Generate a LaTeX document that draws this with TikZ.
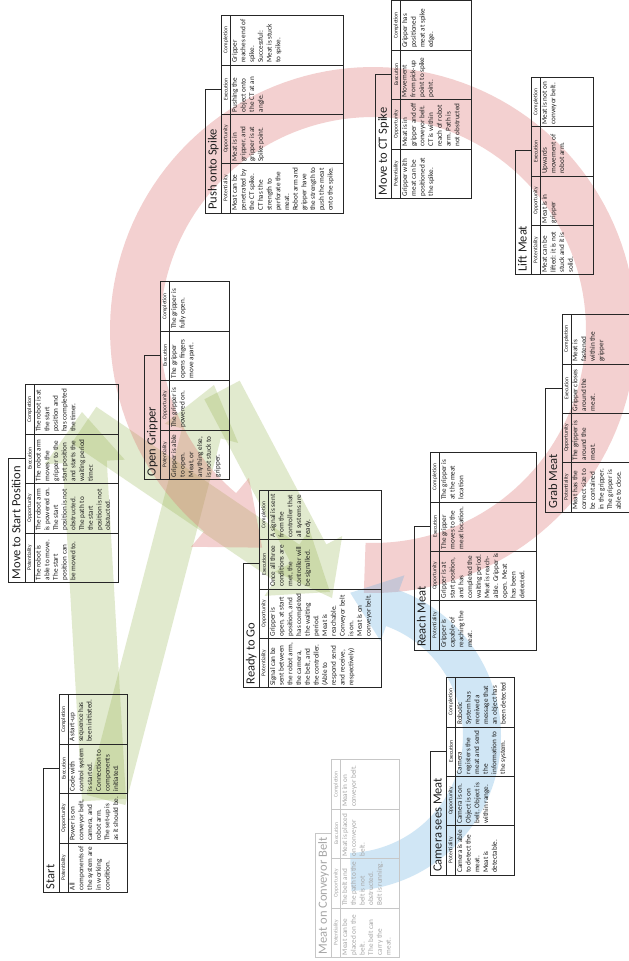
\documentclass[tikz,border=0pt]{standalone}
\usepackage{fontspec}
\setmainfont{Carlito}
\usetikzlibrary{calc}

\colorlet{tblline}{black!85}
\colorlet{tbltext}{black!88}

\tikzset{
  tbl frame/.style={draw=tblline, line width=0.65pt},
  tbl rule/.style={draw=tblline, line width=0.5pt},
  title text/.style={rotate=90, anchor=base west, inner sep=0pt,
    font=\fontsize{12.5}{14}\selectfont, text=tbltext},
  head text/.style={rotate=90, anchor=center, inner sep=0pt,
    font=\fontsize{5.6}{6}\selectfont, text=tbltext},
  cell text/.style={rotate=90, anchor=north west, inner sep=0pt, align=left,
    font=\fontsize{7.2}{8.7}\selectfont, text=tbltext},
  red band/.style={fill={rgb,255:red,222;green,120;blue,118}, fill opacity=0.34},
  blue band/.style={fill={rgb,255:red,110;green,180;blue,225}, fill opacity=0.32},
  green band/.style={fill={rgb,255:red,150;green,180;blue,80}, fill opacity=0.28},
}

% One phase table, drawn turned a quarter turn: title box, header strip, four cells.
% #1 name, #2 left x, #3 bottom y, #4 right x, #5 title, #6-#9 cell texts
\newcommand\phasetable[9]{%
  \pgfmathsetmacro\xH{#2+16.3}%
  \pgfmathsetmacro\xC{\xH+9}%
  \pgfmathsetmacro\yT{#3-197.6}%
  \pgfmathsetmacro\yTT{#3-124}%
  \draw[tbl frame] (\xH,#3) -- (#2,#3) -- (#2,\yTT) -- (\xH,\yTT);
  \draw[tbl frame] (\xH,#3) rectangle (#4,\yT);
  \draw[tbl rule] (\xC,#3) -- (\xC,\yT);
  \foreach \k in {1,2,3}{\draw[tbl rule] (\xH,{#3-49.4*\k}) -- (#4,{#3-49.4*\k});}
  \node[title text] (#1-title) at ({#2+11.5},{#3-3}) {#5};
  \node[head text] (#1-hp) at ({\xH+4.5},{#3-24.7}) {Potentiality};
  \node[head text] (#1-ho) at ({\xH+4.5},{#3-74.1}) {Opportunity};
  \node[head text] (#1-he) at ({\xH+4.5},{#3-123.5}) {Execution};
  \node[head text] (#1-hc) at ({\xH+4.5},{#3-172.9}) {Completion};
  \node[cell text] (#1-pot) at ({\xC+1.3},{#3-2}) {#6};
  \node[cell text] (#1-opp) at ({\xC+1.3},{#3-51.4}) {#7};
  \node[cell text] (#1-exe) at ({\xC+1.3},{#3-100.8}) {#8};
  \node[cell text] (#1-com) at ({\xC+1.3},{#3-150.2}) {#9};
}

% Straight block arrow: #1 tail, #2 tip, #3 half shaft width, #4 half head width, #5 head length
\newcommand\blockarrow[5]{%
  \coordinate (ba-h) at ($(#2)!#5!(#1)$);
  \fill[green band] ($(#1)!#3!90:(#2)$) -- ($(ba-h)!#3!-90:(#1)$) -- ($(ba-h)!#4!-90:(#1)$)
    -- (#2) -- ($(ba-h)!#4!90:(#1)$) -- ($(ba-h)!#3!90:(#1)$) -- ($(#1)!#3!-90:(#2)$) -- cycle;
}

\begin{document}
\begin{tikzpicture}[x=1pt, y=-1pt]
\useasboundingbox (0,0) rectangle (629,961);
\clip (0,0) rectangle (629,961);
\fill[white] (0,0) rectangle (629,961);

% ---- background flow arrows ----
% green: start-up branches
\coordinate (g-start-a) at (104,800);
\coordinate (g-start-b) at (106,800);
\coordinate (g-movestart) at (82,412);
\coordinate (g-gripper) at (214,385);
\coordinate (g-movestart-out) at (84,425);
\coordinate (g-gripper-out) at (222,390);
\coordinate (g-ready-a) at (330,592);
\coordinate (g-ready-b) at (332,598);
\blockarrow{g-start-a}{g-movestart}{22pt}{40pt}{50pt}
\blockarrow{g-start-b}{g-gripper}{20pt}{38pt}{50pt}
\blockarrow{g-movestart-out}{g-ready-a}{22pt}{40pt}{52pt}
\blockarrow{g-gripper-out}{g-ready-b}{20pt}{38pt}{50pt}

% red: main cycle round the handling phases
\fill[red band]
  plot[domain=92:-230, samples=140, variable=\t] ({373+263*cos(\t)},{330+263*sin(\t)})
  -- ({373+283*cos(-230)},{330+283*sin(-230)})
  -- ({373+238*cos(-230)+55*sin(-230)},{330+238*sin(-230)-55*cos(-230)})
  -- ({373+193*cos(-230)},{330+193*sin(-230)})
  -- plot[domain=-230:92, samples=140, variable=\t] ({373+213*cos(\t)},{330+213*sin(\t)})
  -- cycle;

% blue: conveyor to camera to reach
\fill[blue band]
  plot[domain=88:-70, samples=80, variable=\t] ({346+155*cos(\t)},{736+155*sin(\t)})
  -- ({346+171*cos(-70)},{736+171*sin(-70)})
  -- ({346+136*cos(-70)+45*sin(-70)},{736+136*sin(-70)-45*cos(-70)})
  -- ({346+101*cos(-70)},{736+101*sin(-70)})
  -- plot[domain=-70:88, samples=80, variable=\t] ({346+117*cos(\t)},{736+117*sin(\t)})
  -- cycle;

% ---- phase tables ----
\phasetable{start}{42.9}{892.3}{127.4}{Start}
 {All\\components of\\the system are\\in working\\condition.}
 {Power is on\\conveyor belt,\\camera, and\\robot arm.\\The set-up is\\as it should be.}
 {Code with\\control system\\is started.\\Connection to\\components\\initiated.}
 {A start-up\\sequence has\\been initiated.}

\phasetable{movestart}{8.8}{582.3}{118.2}{Move to Start Position}
 {The robot is\\able to move.\\The start\\position can\\be moved to.}
 {The robot arm\\is powered on.\\The start\\position is not\\obstructed.\\The path to\\the start\\position is not\\obstucted.}
 {The robot arm\\moves the\\gripper to the\\start position\\and starts the\\waiting period\\timer.}
 {The robot is at\\the start\\position and\\has completed\\the timer.}

\phasetable{opengripper}{144.2}{479.3}{229.1}{Open Gripper}
 {Gripper is able\\to open.\\Meat, or\\anything else,\\is not stuck to\\gripper.}
 {The gripper is\\powered on.}
 {The gripper\\opens fingers\\move apart.}
 {The gripper is\\fully open.}

\phasetable{ready}{243.2}{687.7}{381.8}{Ready to Go}
 {Signal can be\\sent between\\the robot arm,\\the camera,\\the belt, and\\the controller.\\(Able to\\respond send\\and receive,\\respectively)}
 {Gripper is\\open, at start\\position, and\\has completed\\the waiting\\period.\\Meat is\\reachable.\\Conveyor belt\\is on.\\Meat is on\\conveyor belt.}
 {Once all three\\conditions are\\met, the\\controller will\\be signalled.}
 {A signal is sent\\from the\\controller that\\all systems are\\ready.}

\phasetable{reach}{414.2}{650}{536.8}{Reach Meat}
 {Gripper is\\capable of\\reaching the\\meat.}
 {Gripper is at\\start position,\\and has\\completed the\\waiting period.\\Meat is reach-\\able. Gripper is\\open. Meat\\has been\\detected.}
 {The gripper\\moves to the\\meat location.}
 {The gripper is\\at the meat\\location}

\phasetable{grab}{545.6}{512}{680}{Grab Meat}
 {Meat has the\\correct size to\\be contained\\in the gripper.\\The gripper is\\able to close.}
 {The gripper is\\around the\\meat.}
 {Gripper closes\\around the\\meat.}
 {Meat is\\fastened\\within the\\gripper}

\phasetable{lift}{515}{274.7}{592.9}{Lift Meat}
 {Meat can be\\lifted: it is not\\stuck and it is\\solid.}
 {Meat is in\\gripper}
 {Upwards\\movement of\\robot arm.}
 {Meat is not on\\conveyor belt.}

\phasetable{ctspike}{375.3}{198.3}{471.5}{Move to CT Spike}
 {Gripper with\\meat can be\\positioned at\\the spike.}
 {Meat is in\\gripper and off\\conveyor belt.\\CT is within\\reach of robot\\arm. Path is\\not obstructed}
 {Movement\\from pick-up\\point to spike\\point.}
 {Gripper has\\positioned\\meat at spike\\edge.}

\phasetable{push}{205}{213}{343}{Push onto Spike}
 {Meat can be\\penetrated by\\the CT spike.\\CT has the\\strength to\\perforate the\\meat.\\Robot arm and\\gripper have\\the strength to\\push the meat\\onto the spike.}
 {Meat is in\\gripper, and\\gripper is at\\Spike point.}
 {Pushing the\\object onto\\the CT at an\\angle.}
 {Gripper\\reaches end of\\spike.\\Successful:\\Meat is stuck\\to spike.}

\phasetable{camera}{430.2}{875}{514.8}{Camera sees Meat}
 {Camera is able\\to detect the\\meat.\\Meat is\\detectable.}
 {Camera is on.\\Object is on\\belt. Object is\\within range.}
 {Camera\\registers the\\meat and send\\the\\information to\\the system.}
 {Robotic\\System has\\received a\\message that\\an object has\\been detected}

% phase not yet in use: greyed out
\begin{scope}
\colorlet{tblline}{black!22}
\colorlet{tbltext}{black!35}
\phasetable{belt}{315.3}{957.3}{399.8}{Meat on Conveyor Belt}
 {Meat can be\\placed on the\\belt.\\The belt can\\carry the\\meat.}
 {The belt and\\the path to the\\belt is not\\obstructed.\\Belt is running.}
 {Meat is placed\\on conveyor\\belt.}
 {Meat in on\\conveyor belt.}
\end{scope}
\end{tikzpicture}
\end{document}
